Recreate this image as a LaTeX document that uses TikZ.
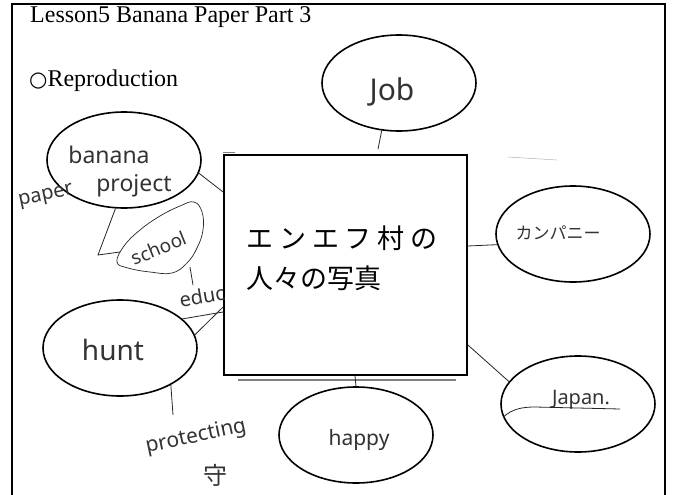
\documentclass[tikz,border=0pt]{standalone}
\usepackage{fontspec}
\setmainfont{Liberation Serif}
\newfontfamily\hw{Noto Sans}
\newfontfamily\jp{Noto Sans CJK JP}
\newfontfamily\symf{DejaVu Sans}
\usetikzlibrary{shapes.geometric,calc}
\begin{document}
\begin{tikzpicture}[x=1pt,y=-1pt,
  bub/.style={draw, ellipse, line width=1.6pt, minimum width=154pt, minimum height=96pt, inner sep=0pt},
  hand/.style={font={\hw\fontsize{#1}{#1}\selectfont}, inner sep=0pt, text=black!80},
  jhand/.style={font={\jp\fontsize{#1}{#1}\selectfont}, inner sep=0pt, text=black!80},
  pen/.style={line width=0.8pt, black!85},
  print/.style={inner sep=0pt, anchor=base west}]
\useasboundingbox (0,0) rectangle (675,495);
\fill[white] (0,0) rectangle (675,495);
% frame
\draw[line width=1.6pt] (12,495) -- (12,4) -- (665,4) -- (665,495);
% printed text
\node[print, font=\fontsize{24}{28}\selectfont] (title) at (30,23) {Lesson5 Banana Paper Part 3};
\node[print] (repro) at (29,86) {{\symf\fontsize{21}{24}\selectfont ○}{\fontsize{24}{27}\selectfont Reproduction}};
% central box
\node[draw, line width=1.8pt, minimum width=243pt, minimum height=220pt, inner sep=0pt] (box) at (345.5,265) {};
\draw[line width=1.2pt, gray] ([xshift=15pt,yshift=-4pt]box.south west) -- ([xshift=-12pt,yshift=-4pt]box.south east);
\node[anchor=west, font={\jp\fontsize{27}{30}\selectfont}, inner sep=0pt] (line1) at (246,238) {\addfontfeatures{LetterSpace=22}エンエフ村の};
\node[anchor=west, font={\jp\fontsize{27}{30}\selectfont}, inner sep=0pt] (line2) at (246,278) {人々の写真};
% bubbles
\node[bub] (banana) at (124,160) {};
\node[bub] (job) at (399,83) {};
\node[bub] (kanpani) at (573,234) {};
\node[bub] (japan) at (578,404) {};
\node[bub] (happy) at (356,435) {};
\node[bub] (hunt) at (120,348) {};
% handwriting
\node[hand=23] (tbanana) at (109,155) {banana};
\node[hand=23] (tproject) at (134,186) {project};
\node[hand=20, rotate=12] (tpaper) at (46,197) {paper};
\node[hand=19, rotate=22] (tschool) at (159,248) {school};
\node[hand=20, rotate=10] (teduc) at (202,296) {educ};
\node[hand=28] (thunt) at (113,350) {hunt};
\node[hand=21, rotate=12] (tprot) at (196,437) {protecting};
\node[jhand=24] (tmamoru) at (215,475) {守};
\node[hand=21] (thappy) at (359,440) {happy};
\node[hand=30] (tjob) at (392,92) {Job};
\node[hand=20] (tjapan) at (581,400) {Japan.};
\node[jhand=17] (tkan) at (558,233) {カンパニー};
% school loop
\draw[pen, line width=0.7pt] plot[smooth cycle, tension=0.7] coordinates {(117,262) (124,246) (140,230) (160,216) (180,206) (194,202) (202,212) (203,230) (197,248) (187,263) (172,273) (150,272) (128,268)};
% coordinates for free ends
\coordinate (lcorner) at (98,255);
\coordinate (lend) at (120,252);
\coordinate (sch1) at (190,267);
\coordinate (sch2) at (193,285);
\coordinate (protend) at (173,415);
% connectors
\draw[pen] (banana.-10) -- ([yshift=73pt]box.west);
\draw[pen, shorten >=5pt] (job.-110) -- ([xshift=31.5pt]box.north);
\draw[pen] ([yshift=19pt]box.east) -- (kanpani.188);
\draw[pen] ([yshift=-80pt]box.east) -- (japan.162);
\draw[pen] ([xshift=9.5pt]box.south) -- (happy.north);
\draw[pen] (hunt.25) -- ([yshift=-47pt]box.west);
\draw[pen] (hunt.10) -- ([yshift=-42pt]box.west);
\draw[pen] (hunt.-36) -- (protend);
\draw[pen] (banana.-100) -- (lcorner) -- (lend);
\draw[pen] (sch1) -- (sch2);
% underline of Japan
\draw[pen] (japan.190) .. controls (512,409) and (522,407) .. (535,407) -- (620,409);
% stray marks
\draw[line width=0.6pt, gray] (223,152) -- (235,152);
\draw[line width=0.5pt, gray!60] (508,157) -- (557,160);
\end{tikzpicture}
\end{document}
